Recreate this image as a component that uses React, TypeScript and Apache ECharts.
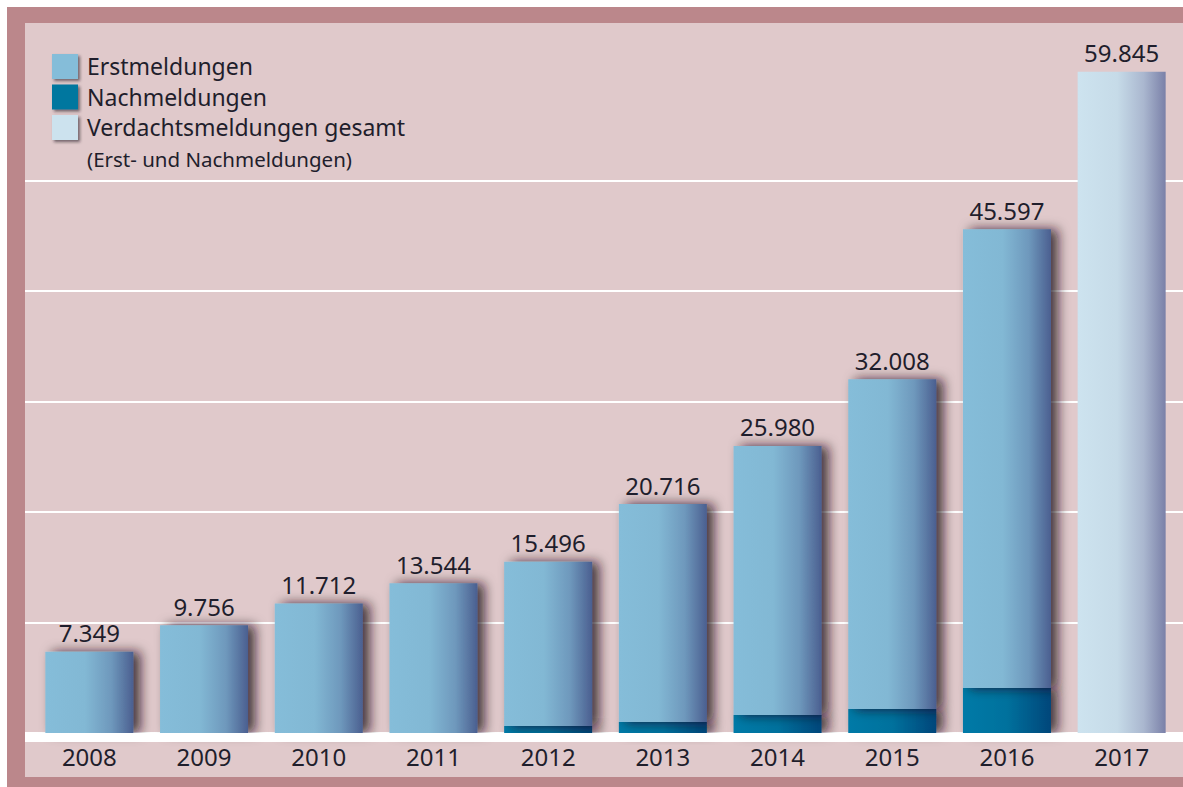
import React, { useEffect, useRef } from "react";
import * as echarts from "echarts";

const years = ["2008", "2009", "2010", "2011", "2012", "2013", "2014", "2015", "2016", "2017"];
const totals = [7349, 9756, 11712, 13544, 15496, 20716, 25980, 32008, 45597, 59845];
const nachmeldungen = [0, 0, 0, 0, 640, 1000, 1630, 2170, 4070, null];
const erstmeldungen = [7349, 9756, 11712, 13544, 14856, 19716, 24350, 29838, 41527, null];
const gesamt = [null, null, null, null, null, null, null, null, null, 59845];
const legendItems = ["Erstmeldungen", "Nachmeldungen", "Verdachtsmeldungen gesamt"];
const legendNote = "(Erst- und Nachmeldungen)";

const FONT = "'Noto Sans', sans-serif";
const TEXT = "#1f1e2c";

const fmt = (n: number) => String(n).replace(/\B(?=(\d{3})+(?!\d))/g, ".");

const grad = (stops: [number, string][]) => ({
  type: "linear",
  x: 0,
  y: 0,
  x2: 1,
  y2: 0,
  colorStops: stops.map(([offset, color]) => ({ offset, color })),
});

const erstGrad = grad([[0, "#85bdd9"], [0.45, "#82b8d4"], [0.75, "#6e98bc"], [1, "#4b5f90"]]);
const nachGrad = grad([[0, "#007aa7"], [0.5, "#00719d"], [1, "#00467a"]]);
const gesGrad = grad([[0, "#cde3ef"], [0.45, "#c6dbe8"], [0.75, "#aab7cf"], [1, "#7a80a8"]]);

const shadow = {
  shadowColor: "rgba(35,15,20,0.8)",
  shadowBlur: 12,
  shadowOffsetX: 7,
  shadowOffsetY: 0,
};

export default function App() {
  const ref = useRef<HTMLDivElement>(null);
  useEffect(() => {
    if (!ref.current) return;
    const chart = echarts.init(ref.current, undefined, { renderer: "svg" });
    const swatchFills = ["#85bdd9", "#00779f", "#cce2ee"];
    const legendGraphics: any[] = [];
    legendItems.forEach((name, i) => {
      const y = 54 + i * 30.5;
      legendGraphics.push({
        type: "rect",
        shape: { x: 52, y, width: 26, height: 25 },
        style: { fill: swatchFills[i], shadowColor: "rgba(40,30,40,0.6)", shadowBlur: 3, shadowOffsetX: 2, shadowOffsetY: 2 },
        z: 10,
      });
      legendGraphics.push({
        type: "text",
        x: 87,
        y: y + 12,
        style: { text: name, fill: TEXT, font: `23px ${FONT}`, textVerticalAlign: "middle", textAlign: "left" },
        z: 10,
      });
    });
    legendGraphics.push({
      type: "text",
      x: 87,
      y: 159,
      style: { text: legendNote, fill: TEXT, font: `20.5px ${FONT}`, textVerticalAlign: "middle", textAlign: "left" },
      z: 10,
    });

    chart.setOption({
      animation: false,
      backgroundColor: "#ffffff",
      graphic: [
        { type: "rect", z: -10, shape: { x: 7, y: 7, width: 1176, height: 780 }, style: { fill: "#bb878b" } },
        { type: "rect", z: -9, shape: { x: 25, y: 23, width: 1158, height: 754 }, style: { fill: "#e0c9cb" } },
        { type: "rect", z: 100, shape: { x: 25, y: 733, width: 1158, height: 9 }, style: { fill: "#ffffff" } },
        ...legendGraphics,
      ],
      grid: [
        { left: 32, right: 4, top: 180.5, bottom: 54 },
        { left: 25, right: 0, top: 180.5, bottom: 54 },
      ],
      xAxis: [
        {
          type: "category",
          gridIndex: 0,
          data: years,
          axisLine: { show: false },
          axisTick: { show: false },
          axisLabel: { color: TEXT, fontFamily: FONT, fontSize: 24, margin: 11 },
        },
        { type: "value", gridIndex: 1, show: false, min: 0, max: 1 },
      ],
      yAxis: [
        {
          type: "value",
          gridIndex: 0,
          min: 0,
          max: 50000,
          interval: 10000,
          axisLine: { show: false },
          axisTick: { show: false },
          axisLabel: { show: false },
          splitLine: { show: false },
        },
        {
          type: "value",
          gridIndex: 1,
          min: 0,
          max: 50000,
          interval: 10000,
          axisLine: { show: false },
          axisTick: { show: false },
          axisLabel: { show: false },
          splitLine: { show: true, lineStyle: { color: "#ffffff", width: 2 } },
        },
      ],
      series: [
        {
          name: "Nachmeldungen",
          type: "bar",
          stack: "total",
          clip: false,
          barWidth: 88,
          data: nachmeldungen,
          itemStyle: { color: nachGrad, ...shadow },
        },
        {
          name: "Erstmeldungen",
          type: "bar",
          stack: "total",
          clip: false,
          barWidth: 88,
          data: erstmeldungen,
          itemStyle: { color: erstGrad, ...shadow },
          label: {
            show: true,
            position: "top",
            distance: 7,
            color: TEXT,
            fontFamily: FONT,
            fontSize: 24,
            formatter: (p: any) => fmt(totals[p.dataIndex]),
          },
        },
        {
          name: "Verdachtsmeldungen gesamt",
          type: "bar",
          stack: "total",
          clip: false,
          barWidth: 88,
          data: gesamt,
          itemStyle: { color: gesGrad },
          label: {
            show: true,
            position: "top",
            distance: 7,
            color: TEXT,
            fontFamily: FONT,
            fontSize: 24,
            formatter: (p: any) => fmt(totals[p.dataIndex]),
          },
        },
      ],
    });
    return () => chart.dispose();
  }, []);
  return <div ref={ref} style={{ position: "fixed", left: 0, top: 0, width: 1183, height: 787 }} />;
}
